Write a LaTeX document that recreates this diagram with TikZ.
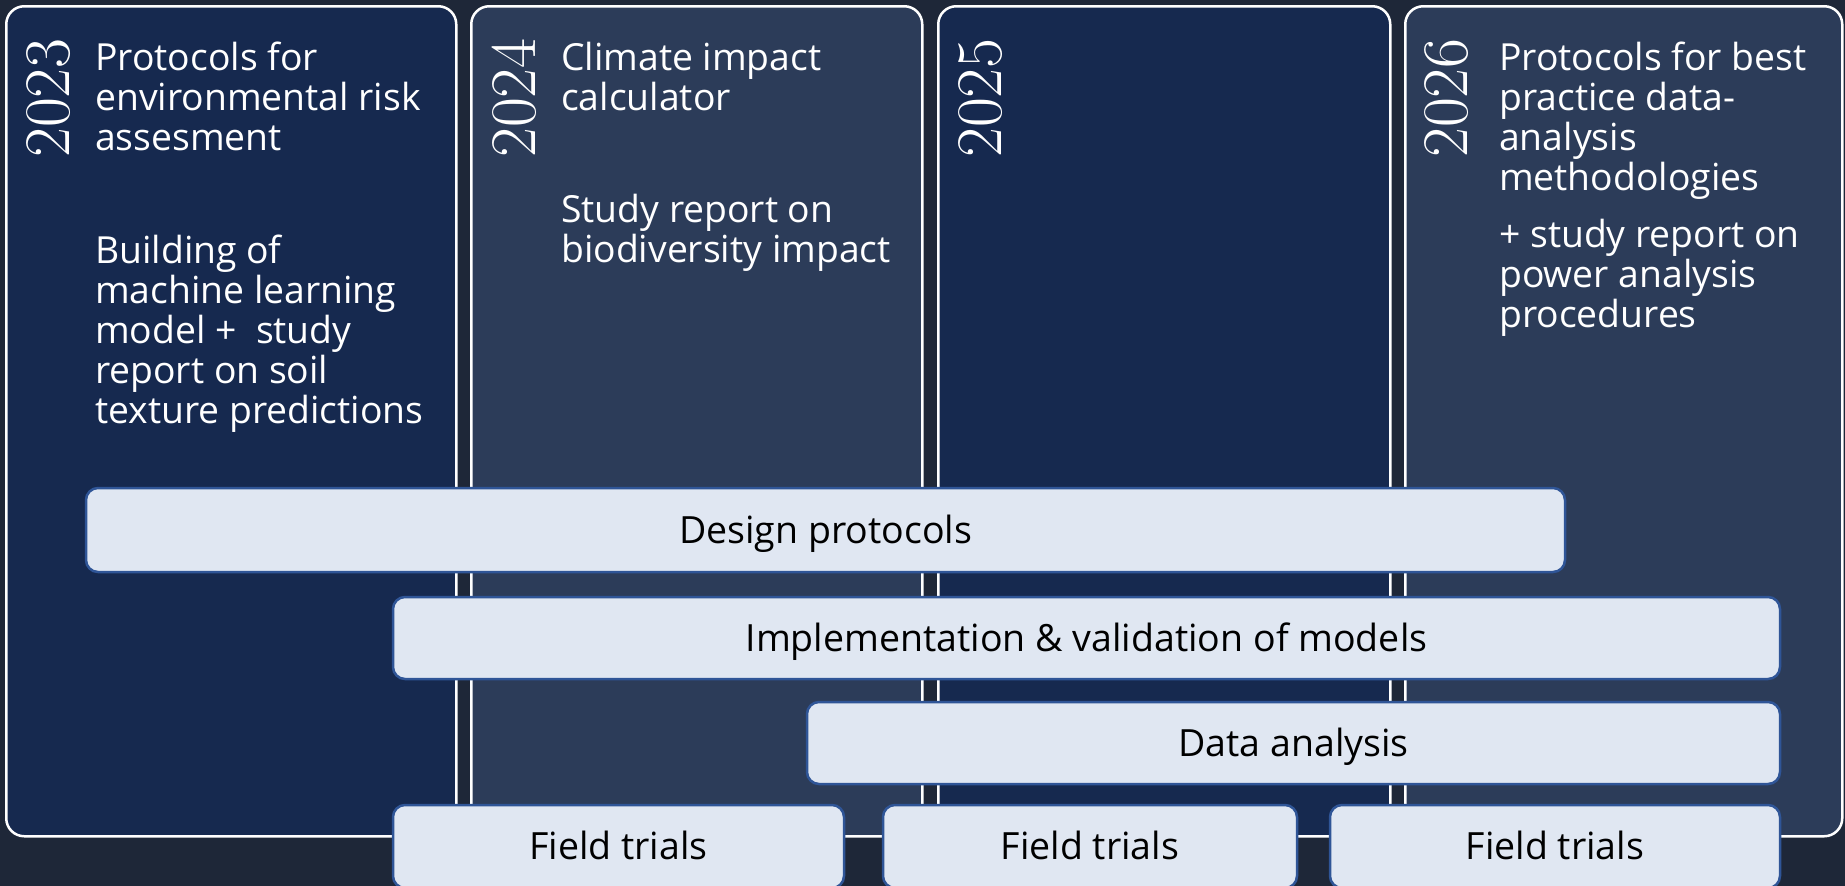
\documentclass[tikz,border=0pt]{standalone}
\usepackage{fontspec}
\newfontfamily\opensans{Open Sans}
\definecolor{bgdark}{HTML}{1E2738}
\definecolor{navA}{HTML}{16294F}
\definecolor{navB}{HTML}{2C3C59}
\definecolor{barfill}{HTML}{E0E7F2}
\definecolor{barline}{HTML}{2F5597}
\newcommand{\firstline}{\rule{0pt}{28pt}}
\begin{document}
\begin{tikzpicture}[x=1pt,y=-1pt,
  panel/.style={draw=white, line width=2.5pt, rounded corners=18pt, anchor=north west, inner sep=0pt},
  panelA/.style={panel, fill=navA},
  panelB/.style={panel, fill=navB},
  yearlabel/.style={rotate=90, anchor=base west, inner sep=0pt, text=white, font=\fontsize{65}{65}\selectfont},
  note/.style={anchor=north west, inner sep=0pt, text=white, align=left, font=\opensans\fontsize{37.3}{40}\selectfont},
  bar/.style={draw=barline, fill=barfill, line width=2.5pt, rounded corners=12pt, inner sep=0pt, text=black,
    font=\opensans\fontsize{37.5}{40}\selectfont, text height=26pt, text depth=0pt},
]
\clip (0,0) rectangle (1845,886);
\fill[bgdark] (0,0) rectangle (1845,886);

% year columns
\node[panelA, minimum width=450pt, minimum height=830pt] (p1) at (5,5) {};
\node[panelB, minimum width=451pt, minimum height=830pt] (p2) at (470,5) {};
\node[panelA, minimum width=452pt, minimum height=830pt] (p3) at (937,5) {};
\node[panelB, minimum width=437pt, minimum height=830pt] (p4) at (1404,5) {};

% years
\node[yearlabel] (y1) at (69,158) {2023};
\node[yearlabel] (y2) at (535,158) {2024};
\node[yearlabel] (y3) at (1001,158) {2025};
\node[yearlabel] (y4) at (1467,158) {2026};

% deliverables
\node[note] (t1a) at (95,42) {\firstline Protocols for\\environmental risk\\assesment};
\node[note] (t1b) at (95,235) {\firstline Building of\\machine learning\\model +~ study\\report on soil\\texture predictions};
\node[note] (t2a) at (561,42) {\firstline Climate impact\\calculator};
\node[note] (t2b) at (561,194) {\firstline Study report on\\biodiversity impact};
\node[note] (t4a) at (1499,42) {\firstline Protocols for best\\practice data-\\analysis\\methodologies};
\node[note] (t4b) at (1499,219) {\firstline + study report on\\power analysis\\procedures};

% work packages
\node[bar, minimum width=1479pt, minimum height=84pt] (design) at (825.5,530) {Design protocols};
\node[bar, minimum width=1387pt, minimum height=82pt] (impl) at (1086.5,638) {Implementation \& validation of models};
\node[bar, minimum width=973pt, minimum height=82pt] (data) at (1293.5,743) {Data analysis};
\node[bar, minimum width=451pt, minimum height=83pt] (ft1) at (618.5,846.5) {Field trials};
\node[bar, minimum width=414pt, minimum height=83pt] (ft2) at (1090,846.5) {Field trials};
\node[bar, minimum width=450pt, minimum height=83pt] (ft3) at (1555,846.5) {Field trials};
\end{tikzpicture}
\end{document}
